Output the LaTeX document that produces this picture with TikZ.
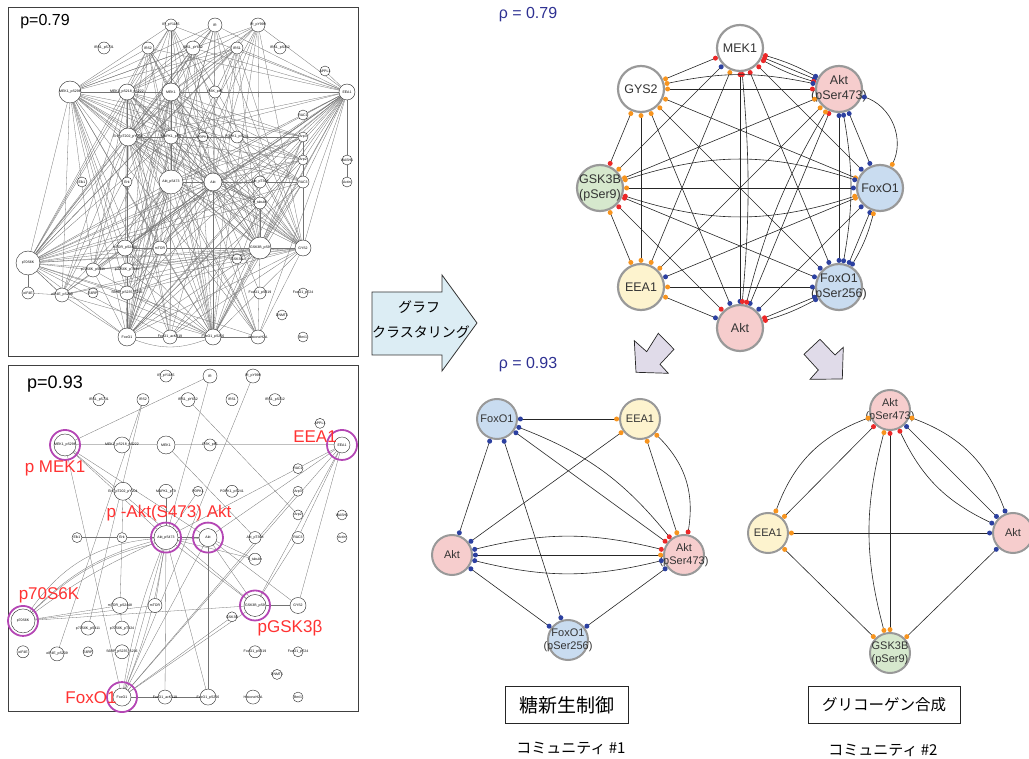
\documentclass[tikz,border=0pt]{standalone}
\usepackage{fontspec}
\setmainfont{Liberation Sans}
\newfontfamily\jp{Noto Sans CJK JP}
\usetikzlibrary{calc}
\definecolor{pinkf}{RGB}{246,205,205}
\definecolor{bluef}{RGB}{201,220,240}
\definecolor{greenf}{RGB}{214,232,205}
\definecolor{yellowf}{RGB}{253,243,206}
\definecolor{cr}{RGB}{236,40,40}
\definecolor{cb}{RGB}{44,64,160}
\definecolor{co}{RGB}{247,148,30}
\definecolor{navy}{RGB}{46,49,146}
\definecolor{redlbl}{RGB}{255,50,50}
\definecolor{magr}{RGB}{180,70,180}
\definecolor{arrowblue}{RGB}{220,237,244}
\definecolor{arrowpurp}{RGB}{224,219,233}
\pgfdeclarelayer{bg}
\pgfsetlayers{bg,main}
\newcommand\ed[5][]{\draw[edge] (#2) to[#1] node[dotn,pos=0,fill=#4]{} node[dotn,pos=1,fill=#5]{} (#3);}
\newcommand\leftnodes[1]{%
\foreach \nm/\xx/\yy/\dd/\tx in {
ir1185/171/25/12/IR\_pY1185, ir/215/25/14/IR, ir999/258/25/14/IR\_pY999,
irs731/104/48/12/IRS1\_pS731, irs2/148/48/12/IRS2, irs612/193/48/14/IRS1\_pY612, irs1/237/48/12/IRS1, irs312/280/48/12/IRS1\_pS312,
appl/325/71/10/APPL1,
m298/70/92/22/MEK1\_pS298, m218/127/92/16/MEK1\_pS218\_pS222, mek/171/92/18/MEK1, pi3k/215/92/12/PI3K\_p85, eea/347/92/16/EEA1,
rac1/303/115/10/RAC1,
erk202/128/137/18/Erk\_pT202\_pY204, mapk/171/137/14/MAPK1\_pT9, pdpk/203/137/10/PDPK1, pdpk241/237/137/12/PDPK1\_pS241, arp3/303/137/10/Arp3,
arp2/303/160/10/Arp2, wash/347/160/10/WASH1,
elk/82/182/10/Elk1, erk/127/182/10/Erk, a473/171/182/24/Akt\_pS473, akt/213/182/18/Akt, at308/260/182/12/Akt\_pT308, rac3/303/182/12/RAC3, actin/347/182/10/Actin,
tub/260/203/12/b\_tubulin,
mt2448/125/248/16/mTOR\_pS2448, mtor/160/248/14/mTOR, g9/260/248/22/GSK3B\_pS9, gys/303/248/16/GYS2,
p70/28/263/24/p70S6K, gsk/237/259/10/GSK3B, p411/93/270/14/p70S6K\_pS411, p424/127/270/14/p70S6K\_pT424,
eif/28/293/12/eIF4E, eif209/62/295/14/eIF4E\_pS209, s6/93/293/10/S6RP, s6p/127/293/14/S6RP\_pS235\_S236,
f319/260/293/12/FoxO1\_pS319, f24/303/293/10/FoxO1\_pT24, dnmt/282/315/10/DNMT1,
fox/127/337/18/FoxO1, fack/170/337/14/FoxO1\_acK319, f256/213/337/16/FoxO1\_pS256, hist/258/337/14/HistoneH2A, bmi/303/337/10/Bmi1}
{\node[lnode,minimum size=\dd,label={[lbl]center:\tx}] (#1\nm) at (\xx,\yy) {};}}
\begin{document}
\begin{tikzpicture}[x=1pt,y=-1pt,
 lnode/.style={circle,draw=black!85,line width=0.4pt,fill=white,inner sep=0pt},
 lbl/.style={font=\fontsize{3.5}{3.5}\selectfont,inner sep=0pt,text=black},
 ledge/.style={draw=black!55,line width=0.3pt},
 ledgeb/.style={draw=black!55,line width=0.3pt},
 rnode/.style={circle,draw=black!40,line width=2.2pt,minimum size=46pt,inner sep=0pt,outer sep=3.6pt},
 rtxt/.style={font=\fontsize{12.5}{15}\selectfont,text=black!80,align=center,inner sep=0pt},
 cnode/.style={rnode,minimum size=40pt,line width=2pt,outer sep=3.4pt},
 ctxt/.style={font=\fontsize{11}{13}\selectfont,text=black!80,align=center,inner sep=0pt},
 edge/.style={draw=black!85,line width=0.6pt},
 dotn/.style={circle,inner sep=0pt,minimum size=5pt,draw=none},
 magring/.style={draw=magr,line width=1.8pt},
 redl/.style={text=redlbl,font=\fontsize{17}{17}\selectfont,inner sep=0pt},
 jbox/.style={draw=black!85,line width=0.8pt,minimum height=37pt,inner sep=0pt},
 jtxt/.style={font=\jp\fontsize{14}{16}\selectfont,inner sep=0pt},
 rho/.style={text=navy,font=\fontsize{16}{16}\selectfont,inner sep=0pt}]
\useasboundingbox (0,0) rectangle (1029,759);

% ---------- left panels ----------
\draw[black!75,line width=0.8pt] (8,7) rectangle (358,356);
\draw[black!75,line width=0.8pt] (8,365) rectangle (358,711);
\node[font=\fontsize{16}{16}\selectfont,inner sep=0pt] (p79) at (45,22) {p=0.79};
\node[font=\fontsize{18}{18}\selectfont,inner sep=0pt] (p93) at (55,384) {p=0.93};

\leftnodes{L}
\begin{pgfonlayer}{bg}
\foreach \a [count=\i] in {m298,mek,a473,akt,p70,g9,eea,fox,f256,gys,m218,erk202}{
 \foreach \b [count=\j] in {m298,mek,a473,akt,p70,g9,eea,fox,f256,gys,m218,erk202}{
  \ifnum\j>\i \draw[ledge] (L\a) -- (L\b); \fi}}
\foreach \a in {m298,mek,a473,akt,p70,g9,eea,fox,f256,gys,m218,erk202}{
 \foreach \b in {ir999,ir,ir1185,irs1,irs2,irs612,mapk,mt2448,mtor,p411,p424,hist,rac3,arp3,arp2,fack,eif209,s6p,tub}{
  \draw[ledge] (L\a) -- (L\b);}}
\foreach \a/\b in {p70/eif,p70/eif209,eif/eif209,fox/f256,fox/fack,eea/appl,at308/akt,tub/akt,gsk/g9,f319/akt,wash/eea,actin/eea,rac1/eea,pi3k/mek}{
  \draw[ledge] (L\a) -- (L\b);}
\draw[ledge] (Lfox) to[bend right=20] (Lf256);
\end{pgfonlayer}

\begin{scope}[shift={(-5,350.3)},yscale=1.029]
\leftnodes{B}
\end{scope}
\begin{pgfonlayer}{bg}
\draw[draw=black!25,line width=1pt] (Bm298) -- (Beea);
\foreach \a/\b in {m298/ir, m298/a473, m298/akt, m298/g9, m298/fox, irs2/eif209, irs2/p411, ir/a473, ir999/fox, irs612/arp2, mek/at308, eea/a473, eea/akt, eea/rac3, eea/g9, eea/fox, eea/gys, a473/g9, a473/fox, a473/fack, a473/f256, a473/akt, a473/mtor, a473/tub, akt/g9, akt/fox, akt/f256, akt/gys, erk202/erk, erk/mt2448, mt2448/p424, mapk/a473, pdpk/a473, p70/g9, p70/mtor, g9/gys, g9/fox, gsk/fox, fox/fack, fack/f256, rac3/g9, p70/mt2448, a473/elk, akt/tub, arp3/fox}
 {\draw[ledgeb] (B\a) -- (B\b);}
\draw[ledgeb] (Ba473) to[bend right=25] (Bp70);
\draw[ledgeb] (Ba473) to[bend right=15] (Bp70);
\draw[ledgeb] (Ba473) to[bend right=6] (Bp70);
\draw[ledgeb] (Bakt) to[bend right=20] (Bp70);
\draw[ledgeb] (Ba473) to[bend left=6] (Bfox);
\draw[ledgeb] (Ba473) to[bend right=6] (Bfox);
\end{pgfonlayer}
\foreach \r in {m298,eea,a473,akt,p70,g9,fox}{\draw[magring] (B\r) circle[radius=15];}
\node[redl] (lmek) at (55,468) {p MEK1};
\node[redl] (leea) at (315,437) {EEA1};
\node[redl] (lakt) at (169,513) {p -Akt(S473) Akt};
\node[redl] (lp70) at (49,595) {p70S6K};
\node[redl] (lgsk) at (290,628) {pGSK3β};
\node[redl] (lfox) at (91,698) {FoxO1};

% ---------- big arrow ----------
\draw[fill=arrowblue,draw=black!80,line width=0.8pt] (372,292) -- (442,292) -- (442,275) -- (477,323) -- (442,371) -- (442,355) -- (372,355) -- cycle;
\node[jtxt] (gr1) at (419,307) {グラフ};
\node[jtxt] (gr2) at (421,332) {クラスタリング};

% ---------- rho labels ----------
\node[rho] (rho1) at (528,15) {ρ = 0.79};
\node[rho] (rho2) at (528,365) {ρ = 0.93};

% ---------- top right network ----------
\node[rnode,fill=white,label={[rtxt]center:MEK1}] (rm) at (740,48) {};
\node[rnode,fill=pinkf,label={[rtxt]center:{Akt\\(pSer473)}}] (ra473) at (839,89) {};
\node[rnode,fill=white,label={[rtxt]center:GYS2}] (rg2) at (641,89) {};
\node[rnode,fill=greenf,label={[rtxt]center:{GSK3B\\(pSer9)}}] (rg3) at (600,188) {};
\node[rnode,fill=bluef,label={[rtxt]center:FoxO1}] (rf) at (880,188) {};
\node[rnode,fill=yellowf,label={[rtxt]center:EEA1}] (re) at (641,287) {};
\node[rnode,fill=bluef,label={[rtxt]center:{FoxO1\\(pSer256)}}] (rf256) at (839,287) {};
\node[rnode,fill=pinkf,label={[rtxt]center:Akt}] (ra) at (740,328) {};

\ed{rm}{ra473}{cr}{cb}
\ed[bend left=6]{rm}{ra473}{cr}{cb}
\ed[bend right=6]{rm}{ra473}{cr}{cr}
\ed{rm}{rg2}{cr}{co}
\ed{rm}{rg3}{cb}{co}
\ed{rm}{rf}{cr}{cb}
\ed{rm}{re}{co}{co}
\ed{rm}{rf256}{cr}{cb}
\ed{rm}{ra}{cr}{cb}
\ed[bend left=5]{rm}{ra}{cr}{cr}
\ed{ra473}{rg2}{cr}{co}
\ed[bend right=12]{ra473}{rg2}{cb}{co}
\ed{ra473}{rg3}{co}{co}
\ed{ra473}{rf}{cb}{cb}
\ed[bend left=50]{ra473}{rf}{cb}{co}
\ed{ra473}{re}{co}{co}
\ed{ra473}{rf256}{cb}{cb}
\ed[bend left=10]{ra473}{rf256}{cb}{cb}
\ed{ra473}{ra}{cr}{cb}
\ed[bend right=8]{ra473}{ra}{co}{cr}
\ed{rg2}{rg3}{co}{cr}
\ed{rg2}{rf}{co}{co}
\ed{rg2}{re}{co}{co}
\ed{rg2}{rf256}{co}{cb}
\ed{rg2}{ra}{co}{cb}
\ed{rg3}{rf}{co}{cb}
\ed[bend right=18]{rg3}{rf}{cr}{co}
\ed[bend left=18]{rg3}{rf}{co}{cb}
\ed{rg3}{re}{co}{co}
\ed{rg3}{rf256}{cr}{cb}
\ed{rg3}{ra}{cr}{cr}
\ed{rf}{re}{co}{cb}
\ed{rf}{rf256}{cb}{cb}
\ed[bend left=8]{rf}{rf256}{co}{cb}
\ed{rf}{ra}{cb}{cb}
\ed{re}{rf256}{co}{cb}
\ed{re}{ra}{co}{cb}
\ed{rf256}{ra}{cb}{cr}
\ed[bend left=6]{rf256}{ra}{cb}{cr}

% ---------- purple arrows ----------
\draw[fill=arrowpurp,draw=black!85,line width=0.7pt] (634.3,340.7) -- (636,372.3) -- (668.3,373.3) -- (660,364.3) -- (674,349.3) -- (658.3,333.3) -- (646.7,351.7) -- cycle;
\draw[fill=arrowpurp,draw=black!85,line width=0.7pt] (820,339.3) -- (835,355) -- (843.3,347.3) -- (842.3,379) -- (810,379.3) -- (818.3,370) -- (804,354.3) -- cycle;

% ---------- community 1 ----------
\node[cnode,fill=bluef,label={[ctxt]center:FoxO1}] (c1f) at (497,419) {};
\node[cnode,fill=yellowf,label={[ctxt]center:EEA1}] (c1e) at (640,419) {};
\node[cnode,fill=pinkf,label={[ctxt]center:Akt}] (c1a) at (452,555) {};
\node[cnode,fill=pinkf,label={[ctxt]center:{Akt\\(pSer473)}}] (c1a473) at (684,555) {};
\node[cnode,fill=bluef,label={[ctxt]center:{FoxO1\\(pSer256)}}] (c1f256) at (568,640) {};
\ed{c1f}{c1e}{cb}{co}
\ed{c1f}{c1a473}{cb}{cr}
\ed[bend left=15]{c1f}{c1a473}{cb}{cr}
\ed{c1f}{c1a}{cb}{cb}
\ed{c1f}{c1f256}{cb}{cb}
\ed{c1e}{c1a}{co}{cb}
\ed{c1e}{c1a473}{co}{co}
\ed[bend left=28]{c1e}{c1a473}{co}{cr}
\ed{c1a}{c1a473}{cb}{co}
\ed[bend left=14]{c1a}{c1a473}{cb}{cr}
\ed[bend right=14]{c1a}{c1a473}{cb}{cb}
\ed{c1a}{c1f256}{cb}{cb}
\ed{c1a473}{c1f256}{cb}{cb}

% ---------- community 2 ----------
\node[cnode,fill=pinkf,label={[ctxt]center:{Akt\\(pSer473)}}] (c2a473) at (890,410) {};
\node[cnode,fill=yellowf,label={[ctxt]center:EEA1}] (c2e) at (768,533) {};
\node[cnode,fill=pinkf,label={[ctxt]center:Akt}] (c2a) at (1013,533) {};
\node[cnode,fill=greenf,label={[ctxt]center:{GSK3B\\(pSer9)}}] (c2g) at (890,653) {};
\ed[bend right=25]{c2a473}{c2e}{co}{co}
\ed{c2a473}{c2e}{cr}{co}
\ed{c2a473}{c2a}{cb}{cb}
\ed[bend left=25]{c2a473}{c2a}{co}{cb}
\ed[bend right=20]{c2a473}{c2a}{cr}{cb}
\ed{c2a473}{c2g}{cr}{co}
\ed[bend right=15]{c2a473}{c2g}{co}{co}
\ed{c2e}{c2a}{co}{cb}
\ed{c2e}{c2g}{co}{co}
\ed{c2a}{c2g}{cb}{co}

% ---------- community labels ----------
\node[jbox,minimum width=123pt,font=\jp\fontsize{19}{21}\selectfont] (box1) at (566.5,705) {糖新生制御};
\node[jbox,minimum width=152pt,font=\jp\fontsize{15.5}{18}\selectfont] (box2) at (884,705) {グリコーゲン合成};
\node[jtxt,font=\jp\fontsize{15}{17}\selectfont] (com1) at (571,748) {コミュニティ \#1};
\node[jtxt,font=\jp\fontsize{15}{17}\selectfont] (com2) at (883,750) {コミュニティ \#2};
\end{tikzpicture}
\end{document}
